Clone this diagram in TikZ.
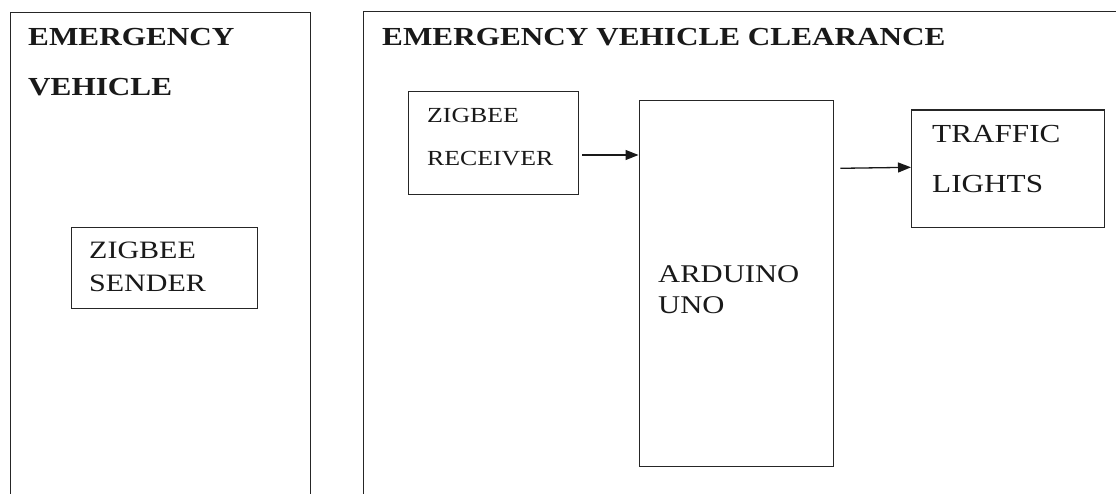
\documentclass[tikz,border=0pt]{standalone}
\usepackage{fontspec}
\setmainfont[FakeStretch=1.2]{Liberation Serif}
\usetikzlibrary{arrows.meta,calc}
\begin{document}
\begin{tikzpicture}[x=1pt,y=-1pt,
  frame/.style={draw=black!85,line width=1.3pt,rectangle,inner sep=0pt,anchor=north west},
  blockbox/.style={draw=black!85,line width=1.3pt,rectangle,inner sep=0pt,anchor=north west},
  title/.style={anchor=base west,inner sep=0pt,font=\fontsize{26}{30}\selectfont\bfseries,text=black!90},
  lbl/.style={anchor=base west,inner sep=0pt,text=black!90},
  arr/.style={draw=black!90,line width=1.3pt,-{Triangle[length=13pt,width=10pt]}}]
\clip (0,0) rectangle (1116,493);
\fill[white] (0,0) rectangle (1116,493);
% outer frames (open at the bottom of the picture)
\node[frame,minimum width=300.5pt,minimum height=520pt] (evframe) at (9.5,11.5) {};
\node[frame,minimum width=780pt,minimum height=520pt] (clrframe) at (362.5,11) {};
% titles
\node[title] (t1) at (28,45) {EMERGENCY};
\node[title] (t2) at (28,95) {VEHICLE};
\node[title] (t3) at (382,45) {EMERGENCY VEHICLE CLEARANCE};
% blocks
\node[blockbox,minimum width=186pt,minimum height=81pt] (sender) at (70.5,226.5) {};
\node[blockbox,minimum width=170.5pt,minimum height=103pt] (recv) at (407.5,91) {};
\node[blockbox,minimum width=194.5pt,minimum height=366pt] (ard) at (638.5,100) {};
\node[blockbox,minimum width=192.5pt,minimum height=117.5pt] (traffic) at (911,109.3) {};
% block texts
\node[lbl,font=\fontsize{25}{30}\selectfont] (s1) at (89,258) {ZIGBEE};
\node[lbl,font=\fontsize{25}{30}\selectfont] (s2) at (89,291) {SENDER};
\node[lbl,font=\fontsize{21.5}{26}\selectfont] (r1) at (427,122) {ZIGBEE};
\node[lbl,font=\fontsize{21.5}{26}\selectfont] (r2) at (427,165) {RECEIVER};
\node[lbl,font=\fontsize{25.5}{30}\selectfont] (a1) at (658,282) {ARDUINO};
\node[lbl,font=\fontsize{25.5}{30}\selectfont] (a2) at (658,313) {UNO};
\node[lbl,font=\fontsize{26}{30}\selectfont] (l1) at (932,142) {TRAFFIC};
\node[lbl,font=\fontsize{26}{30}\selectfont] (l2) at (932,192) {LIGHTS};
% connectors
\draw[arr] ($(recv.north east)+(3,64)$) -- ($(ard.north west)+(0,55)$);
\draw[arr] ($(ard.north east)+(6,68.3)$) -- ($(traffic.north west)+(0,58)$);
\end{tikzpicture}
\end{document}
